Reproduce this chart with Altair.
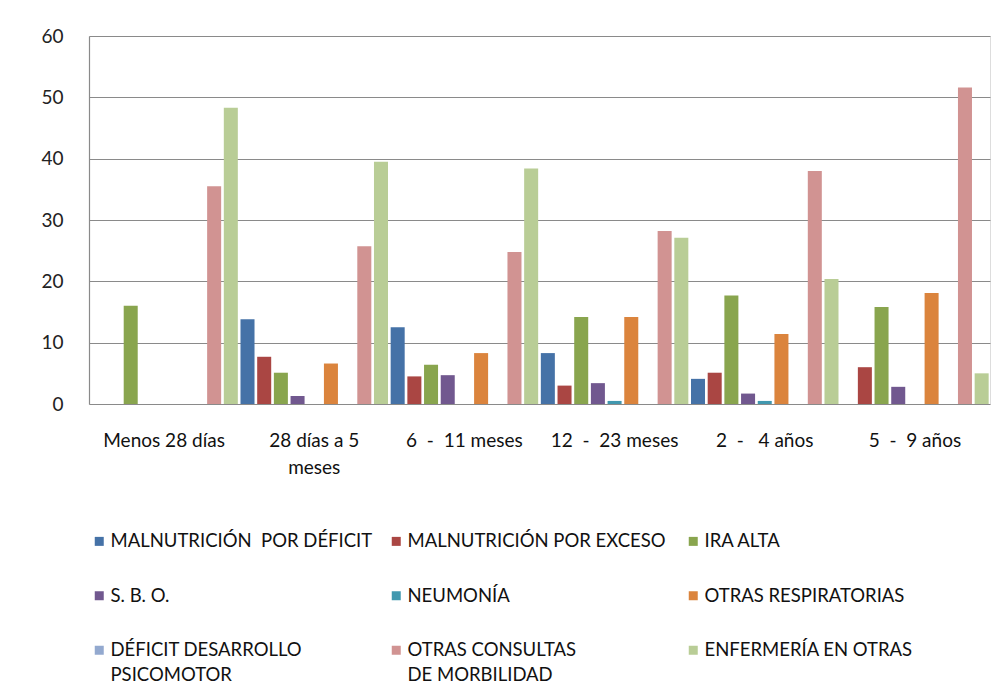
import altair as alt
import pandas as pd

NB = "\u00a0"
categories = [
    "Menos 28 días",
    "28 días a 5 meses",
    f"6 {NB}-{NB} 11 meses",
    f"12 {NB}-{NB} 23 meses",
    f"2 {NB}-{NB}{NB} 4 años",
    f"5 {NB}-{NB} 9 años",
]

series = [
    f"MALNUTRICIÓN {NB}POR DÉFICIT",
    "MALNUTRICIÓN POR EXCESO",
    "IRA ALTA",
    "S. B. O.",
    "NEUMONÍA",
    "OTRAS RESPIRATORIAS",
    "DÉFICIT DESARROLLO PSICOMOTOR",
    "OTRAS CONSULTAS DE MORBILIDAD",
    "ENFERMERÍA EN OTRAS",
]

colors = ["#4572A7", "#AA4643", "#89A54E", "#71588F", "#4198AF",
          "#DB843D", "#93A9CF", "#D19392", "#B9CD96"]

mal_deficit = [0, 13.8, 12.5, 8.3, 4.1, 0]
mal_exceso = [0, 7.7, 4.5, 3.0, 5.1, 6.0]
ira_alta = [16.0, 5.1, 6.4, 14.2, 17.7, 15.8]
sbo = [0, 1.3, 4.7, 3.4, 1.7, 2.8]
neumonia = [0, 0, 0, 0.5, 0.5, 0]
otras_resp = [0, 6.6, 8.3, 14.2, 11.4, 18.1]
deficit_psico = [0, 0, 0, 0, 0, 0]
otras_consultas = [35.5, 25.7, 24.8, 28.2, 38.0, 51.6]
enfermeria = [48.3, 39.5, 38.4, 27.1, 20.4, 5.0]

values = [mal_deficit, mal_exceso, ira_alta, sbo, neumonia, otras_resp,
          deficit_psico, otras_consultas, enfermeria]

y_ticks = [0, 10, 20, 30, 40, 50, 60]

rows = []
for s, vals in zip(series, values):
    for c, v in zip(categories, vals):
        rows.append({"grupo": c, "serie": s, "valor": v})
df = pd.DataFrame(rows)

x_wrap = {"28 días a 5 meses": ["28 días a 5", "meses"]}
leg_wrap = {
    "DÉFICIT DESARROLLO PSICOMOTOR": ["DÉFICIT DESARROLLO", "PSICOMOTOR"],
    "OTRAS CONSULTAS DE MORBILIDAD": ["OTRAS CONSULTAS", "DE MORBILIDAD"],
}


def wrap_expr(mapping, default="datum.label"):
    expr = default
    for k, v in mapping.items():
        arr = "[" + ", ".join(f"'{p}'" for p in v) + "]"
        expr = f"datum.label == '{k}' ? {arr} : ({expr})"
    return expr


FONT = "Lato"
pin = 0.16

chart = alt.Chart(df).mark_bar().encode(
    x=alt.X(
        "grupo:N",
        sort=categories,
        scale=alt.Scale(paddingInner=0, paddingOuter=0),
        axis=alt.Axis(
            title=None, labelAngle=0, ticks=False, tickSize=0, domain=False,
            labelPadding=27, labelFontSize=19, labelLineHeight=27,
            labelColor="#111111", labelFont=FONT, labelExpr=wrap_expr(x_wrap),
        ),
    ),
    xOffset=alt.XOffset(
        "serie:N", sort=series,
        scale=alt.Scale(paddingInner=pin, paddingOuter=pin / 2),
    ),
    y=alt.Y(
        "valor:Q",
        scale=alt.Scale(domain=[0, 60], nice=False),
        axis=alt.Axis(
            title=None, values=y_ticks, ticks=False, tickSize=0, domain=True,
            domainColor="#8a8a8a", domainWidth=1.2,
            gridColor="#8a8a8a", gridWidth=1.2,
            labelPadding=26, labelFontSize=19, labelColor="#222222",
            labelFont=FONT,
        ),
    ),
    color=alt.Color(
        "serie:N",
        sort=series,
        scale=alt.Scale(domain=series, range=colors),
        legend=alt.Legend(
            title=None, orient="none", direction="horizontal",
            legendX=1, legendY=496,
            columns=3, gridAlign="all", columnPadding=14, rowPadding=10.5,
            symbolType="square", symbolSize=81, symbolStrokeWidth=0,
            labelOffset=2, labelFontSize=18.5, labelFont=FONT,
            labelColor="#111111", labelLimit=500, padding=0,
            labelExpr=wrap_expr(leg_wrap, "[datum.label, '']"),
        ),
    ),
).properties(
    width=901,
    height=368,
    autosize=alt.AutoSizeParams(type="none"),
    padding={"left": 81, "top": 28, "right": 8, "bottom": 284},
).configure_view(stroke=None).configure(
    background="white", font=FONT,
    style={"guide-label": {"lineHeight": 25}},
)

chart.save("out.html", embed_options={"renderer": "svg", "actions": False})
